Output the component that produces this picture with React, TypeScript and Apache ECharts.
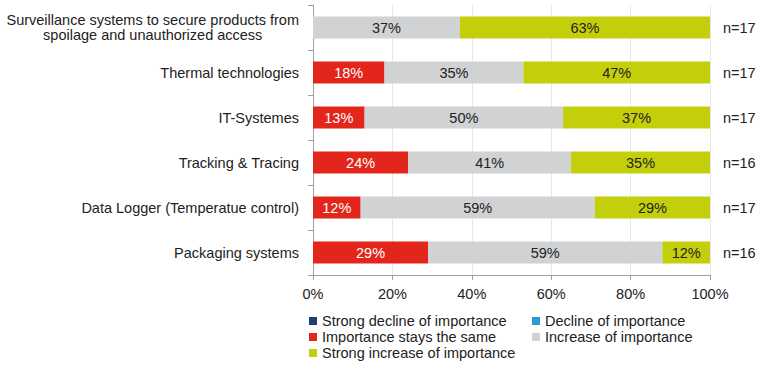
import React, { useEffect, useRef } from "react";
import * as echarts from "echarts";

const categories = [
  "Surveillance systems to secure products from\nspoilage and unauthorized access",
  "Thermal technologies",
  "IT-Systemes",
  "Tracking & Tracing",
  "Data Logger (Temperatue control)",
  "Packaging systems",
];
const nLabels = ["n=17", "n=17", "n=17", "n=16", "n=17", "n=16"];
const seriesNames = [
  "Strong decline of importance",
  "Decline of importance",
  "Importance stays the same",
  "Increase of importance",
  "Strong increase of importance",
];
const strongDecline = [0, 0, 0, 0, 0, 0];
const decline = [0, 0, 0, 0, 0, 0];
const staysSame = [0, 18, 13, 24, 12, 29];
const increase = [37, 35, 50, 41, 59, 59];
const strongIncrease = [63, 47, 37, 35, 29, 12];
const xTicks = [0, 20, 40, 60, 80, 100];

const colors = ["#1f3f73", "#2b9bd1", "#e3261b", "#d0d2d3", "#c3cf0a"];
const labelColors = ["#fff", "#fff", "#fff", "#222", "#222"];
const FONT = "Liberation Sans, Arial, sans-serif";
const FS = 14.5;

export default function App() {
  const ref = useRef<HTMLDivElement>(null);
  useEffect(() => {
    if (!ref.current) return;
    const chart = echarts.init(ref.current, undefined, { renderer: "svg" });
    const data = [strongDecline, decline, staysSame, increase, strongIncrease];
    const legendBase = {
      orient: "vertical",
      top: 313,
      padding: 0,
      height: 60,
      itemWidth: 8,
      itemHeight: 8,
      itemGap: 0,
      icon: "rect",
      textStyle: { fontFamily: FONT, fontSize: FS, color: "#222", lineHeight: 16 },
    };
    chart.setOption({
      animation: false,
      textStyle: { fontFamily: FONT },
      grid: { left: 313, right: 50, top: 5, bottom: 92 },
      legend: [
        { ...legendBase, left: 309, data: [seriesNames[0], seriesNames[2], seriesNames[4]] },
        { ...legendBase, left: 532, data: [seriesNames[1], seriesNames[3]] },
      ],
      xAxis: {
        type: "value",
        min: 0,
        max: 100,
        interval: 20,
        axisLine: { show: true, lineStyle: { color: "#a0a0a0" } },
        axisTick: { show: true, length: 5, lineStyle: { color: "#a0a0a0" } },
        axisLabel: {
          fontFamily: FONT,
          fontSize: FS,
          color: "#222",
          margin: 11,
          formatter: (v: number) => (xTicks.includes(v) ? v + "%" : ""),
        },
        splitLine: { show: true, lineStyle: { color: "#e8e8e8" } },
      },
      yAxis: [
        {
          type: "category",
          inverse: true,
          data: categories,
          axisLine: { show: true, lineStyle: { color: "#a0a0a0" } },
          axisTick: { show: true, length: 5, lineStyle: { color: "#a0a0a0" } },
          axisLabel: {
            fontFamily: FONT,
            fontSize: FS,
            color: "#222",
            margin: 14,
            formatter: (v: string) => {
              if (v.includes("\n")) {
                return v
                  .split("\n")
                  .map((l) => "{c|" + l + "}")
                  .join("\n");
              }
              return v;
            },
            rich: {
              c: { align: "center", fontFamily: FONT, fontSize: FS, color: "#222", lineHeight: 15 },
            },
          },
        },
        {
          type: "category",
          inverse: true,
          position: "right",
          data: nLabels,
          axisLine: { show: false },
          axisTick: { show: false },
          axisLabel: { fontFamily: FONT, fontSize: FS, color: "#222", margin: 13, align: "left" },
        },
      ],
      series: seriesNames.map((name, i) => ({
        name,
        type: "bar",
        stack: "total",
        barWidth: 22,
        yAxisIndex: 0,
        itemStyle: { color: colors[i] },
        label: {
          show: i >= 2,
          position: "inside",
          fontFamily: FONT,
          fontSize: FS,
          color: labelColors[i],
          formatter: (p: any) => (p.value ? p.value + "%" : ""),
        },
        data: data[i],
      })),
    });
    return () => chart.dispose();
  }, []);
  return (
    <div
      ref={ref}
      style={{ position: "fixed", left: 0, top: 0, width: 760, height: 367, background: "#fff" }}
    />
  );
}
